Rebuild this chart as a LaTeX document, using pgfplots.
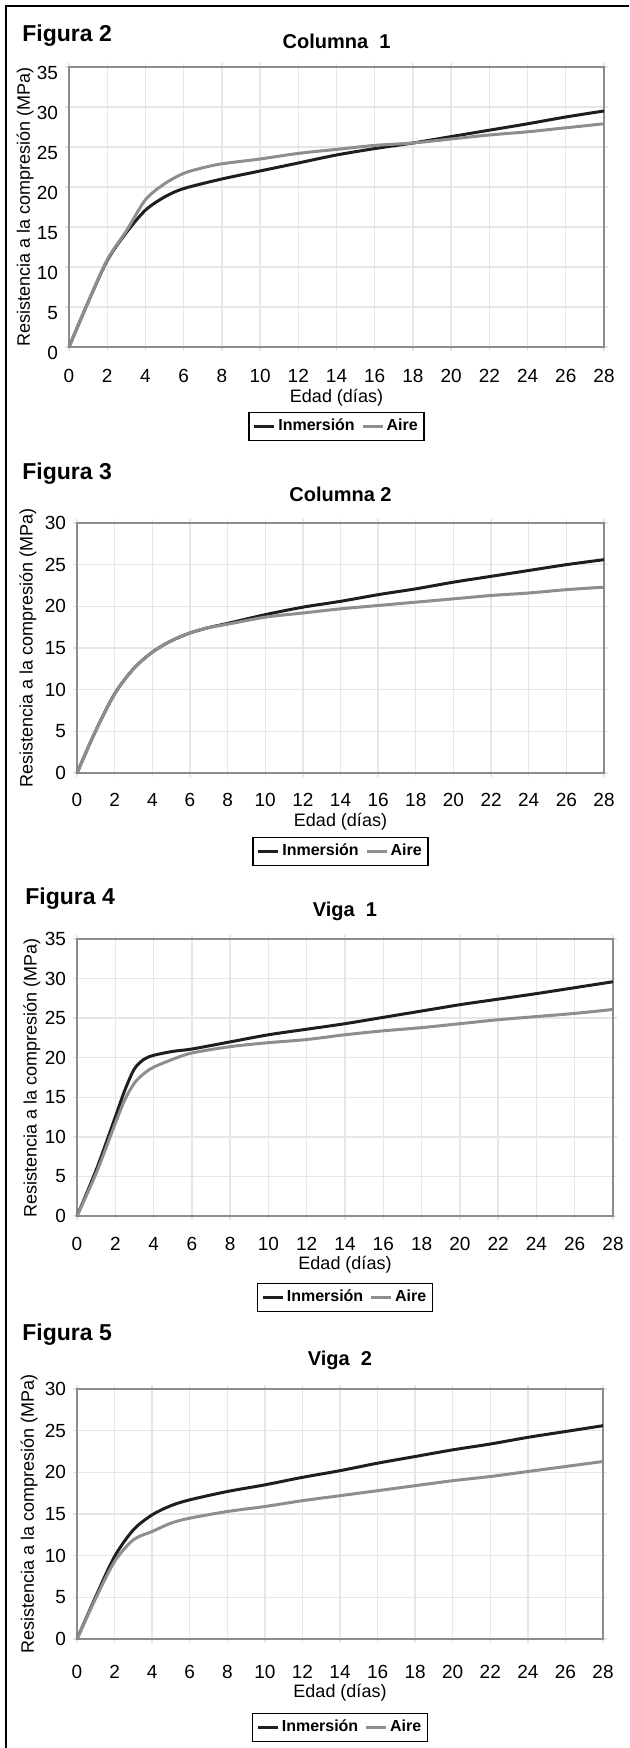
\documentclass[border=0pt]{standalone}
\usepackage{fontspec}
\setmainfont{Liberation Sans}
\usepackage{pgfplots}
\pgfplotsset{compat=1.18}
\definecolor{cInm}{HTML}{1E1E1E}
\definecolor{cAir}{HTML}{8E8E8E}
\definecolor{cFr}{HTML}{8C8C8C}
\definecolor{cGr}{HTML}{E6E6E6}
\pgfplotsset{
  fig/.style={
    scale only axis, anchor=north west,
    xmin=0, xmax=28, ymin=0, xtick={0,2,...,28}, ytick={0,5,...,35},
    grid=major, grid style={cGr, line width=0.7pt},
    axis line style={cFr, line width=0.8pt},
    tick align=outside, major tick length=2pt,
    tick style={cGr, line width=0.7pt},
    tick label style={font=\fontsize{9.5}{10}\selectfont},
    /pgf/number format/assume math mode=true,
    xticklabel style={anchor=center},
    label style={font=\fontsize{9}{10}\selectfont},
    title style={font=\bfseries\fontsize{10}{12}\selectfont, anchor=center},
    xlabel={Edad (días)},
    ylabel={Resistencia a la compresión (MPa)},
    xlabel style={at={(axis description cs:0.5,0)}, anchor=center},
    ylabel style={anchor=center},
    legend columns=2,
    legend style={at={(0.5,0)}, anchor=north, draw=black, line width=0.7pt,
      font=\bfseries\fontsize{8}{9}\selectfont, inner sep=2pt,
      nodes={inner sep=1.2pt},
      /tikz/every even column/.append style={column sep=2pt}},
    legend image code/.code={\draw[#1] (0pt,0pt) -- (10pt,0pt);},
    clip=false,
    every axis plot/.append style={smooth, tension=0.5, line width=1.5pt},
  },
  inm/.style={cInm},
  air/.style={cAir},
}
\newcommand{\fig}[2]{\node[anchor=base west, inner sep=0,
  font=\bfseries\fontsize{11.5}{13}\selectfont] at (#1) {#2};}

\begin{document}
\begin{tikzpicture}
\path[use as bounding box] (0,0) rectangle (314.5pt,-874pt);
\draw[line width=1pt] (3pt,-874pt) -- (3pt,-3pt) -- (314.5pt,-3pt);

% Figura 2
\fig{11pt,-21pt}{Figura 2}
\begin{axis}[fig, at={(34.5pt,-33.5pt)}, width=267.5pt, height=140pt, ymax=35,
  title={Columna~~1}, title style={yshift=7pt},
  xticklabel style={yshift=-12.5pt}, yticklabel style={yshift=-3pt},
  xlabel style={yshift=-25.5pt}, legend style={yshift=-32.5pt},
  ylabel style={at={(axis description cs:-0.082,0.5)}}]
\addplot[inm] coordinates {(0,0)(1,5.6)(2,10.8)(3,14.3)(4,17.1)(5,18.75)(6,19.8)(8,21.0)(10,22.0)(12,23.0)(14,24.0)(16,24.8)(18,25.5)(20,26.3)(22,27.1)(24,27.9)(26,28.75)(28,29.5)};
\addplot[air] coordinates {(0,0)(1,5.6)(2,10.9)(3,14.5)(4,18.4)(5,20.4)(6,21.7)(7,22.4)(8,22.9)(10,23.5)(12,24.2)(14,24.7)(16,25.2)(18,25.5)(20,26.0)(22,26.5)(24,26.9)(26,27.4)(28,27.9)};
\legend{Inmersión,Aire}
\end{axis}

% Figura 3
\fig{11pt,-240pt}{Figura 3}
\begin{axis}[fig, at={(38.5pt,-261.5pt)}, width=263.5pt, height=125pt, ymax=30,
  title={Columna 2}, title style={yshift=8.5pt},
  xticklabel style={yshift=-11.5pt},
  xlabel style={yshift=-24.5pt}, legend style={yshift=-32pt},
  ylabel style={at={(axis description cs:-0.093,0.5)}}]
\addplot[inm] coordinates {(0,0)(1,5.1)(2,9.5)(3,12.5)(4,14.5)(5,15.85)(6,16.8)(7,17.45)(8,17.95)(10,19.0)(12,19.9)(14,20.6)(16,21.4)(18,22.1)(20,22.9)(22,23.6)(24,24.3)(26,25.0)(28,25.6)};
\addplot[air] coordinates {(0,0)(1,5.1)(2,9.5)(3,12.5)(4,14.5)(5,15.85)(6,16.8)(7,17.45)(8,17.85)(10,18.7)(12,19.2)(14,19.7)(16,20.1)(18,20.5)(20,20.9)(22,21.3)(24,21.6)(26,22.0)(28,22.3)};
\legend{Inmersión,Aire}
\end{axis}

% Figura 4
\fig{12.5pt,-452pt}{Figura 4}
\begin{axis}[fig, at={(38.5pt,-469.5pt)}, width=268pt, height=138.5pt, ymax=35,
  title={Viga~~1}, title style={yshift=8pt},
  xticklabel style={yshift=-12pt},
  xlabel style={yshift=-24.5pt}, legend style={yshift=-33.5pt},
  ylabel style={at={(axis description cs:-0.084,0.5)}}]
\addplot[inm] coordinates {(0,0)(1,5.8)(2,12.5)(2.5,15.9)(3,18.6)(3.5,19.8)(4,20.3)(5,20.8)(6,21.1)(8,22.0)(10,22.9)(12,23.6)(14,24.3)(16,25.1)(18,25.9)(20,26.7)(22,27.4)(24,28.1)(26,28.85)(28,29.6)};
\addplot[air] coordinates {(0,0)(1,5.4)(2,11.7)(2.5,14.7)(3,16.8)(3.5,18.0)(4,18.8)(5,19.8)(6,20.6)(8,21.4)(10,21.9)(12,22.3)(14,22.9)(16,23.4)(18,23.8)(20,24.3)(22,24.8)(24,25.2)(26,25.6)(28,26.1)};
\legend{Inmersión,Aire}
\end{axis}

% Figura 5
\fig{11pt,-670pt}{Figura 5}
\begin{axis}[fig, at={(38.5pt,-694.5pt)}, width=263pt, height=125pt, ymax=30,
  title={Viga~~2}, title style={yshift=8.5pt},
  xticklabel style={yshift=-14.5pt},
  xlabel style={yshift=-27pt}, legend style={yshift=-37pt},
  ylabel style={at={(axis description cs:-0.091,0.5)}}]
\addplot[inm] coordinates {(0,0)(1,5.1)(2,9.9)(3,13.1)(4,14.9)(5,16.0)(6,16.7)(8,17.7)(10,18.5)(12,19.4)(14,20.2)(16,21.1)(18,21.9)(20,22.7)(22,23.4)(24,24.2)(26,24.9)(28,25.6)};
\addplot[air] coordinates {(0,0)(1,4.9)(2,9.3)(3,11.9)(4,12.9)(5,13.9)(6,14.5)(8,15.3)(10,15.9)(12,16.6)(14,17.2)(16,17.8)(18,18.4)(20,19.0)(22,19.5)(24,20.1)(26,20.7)(28,21.3)};
\legend{Inmersión,Aire}
\end{axis}
\end{tikzpicture}
\end{document}
